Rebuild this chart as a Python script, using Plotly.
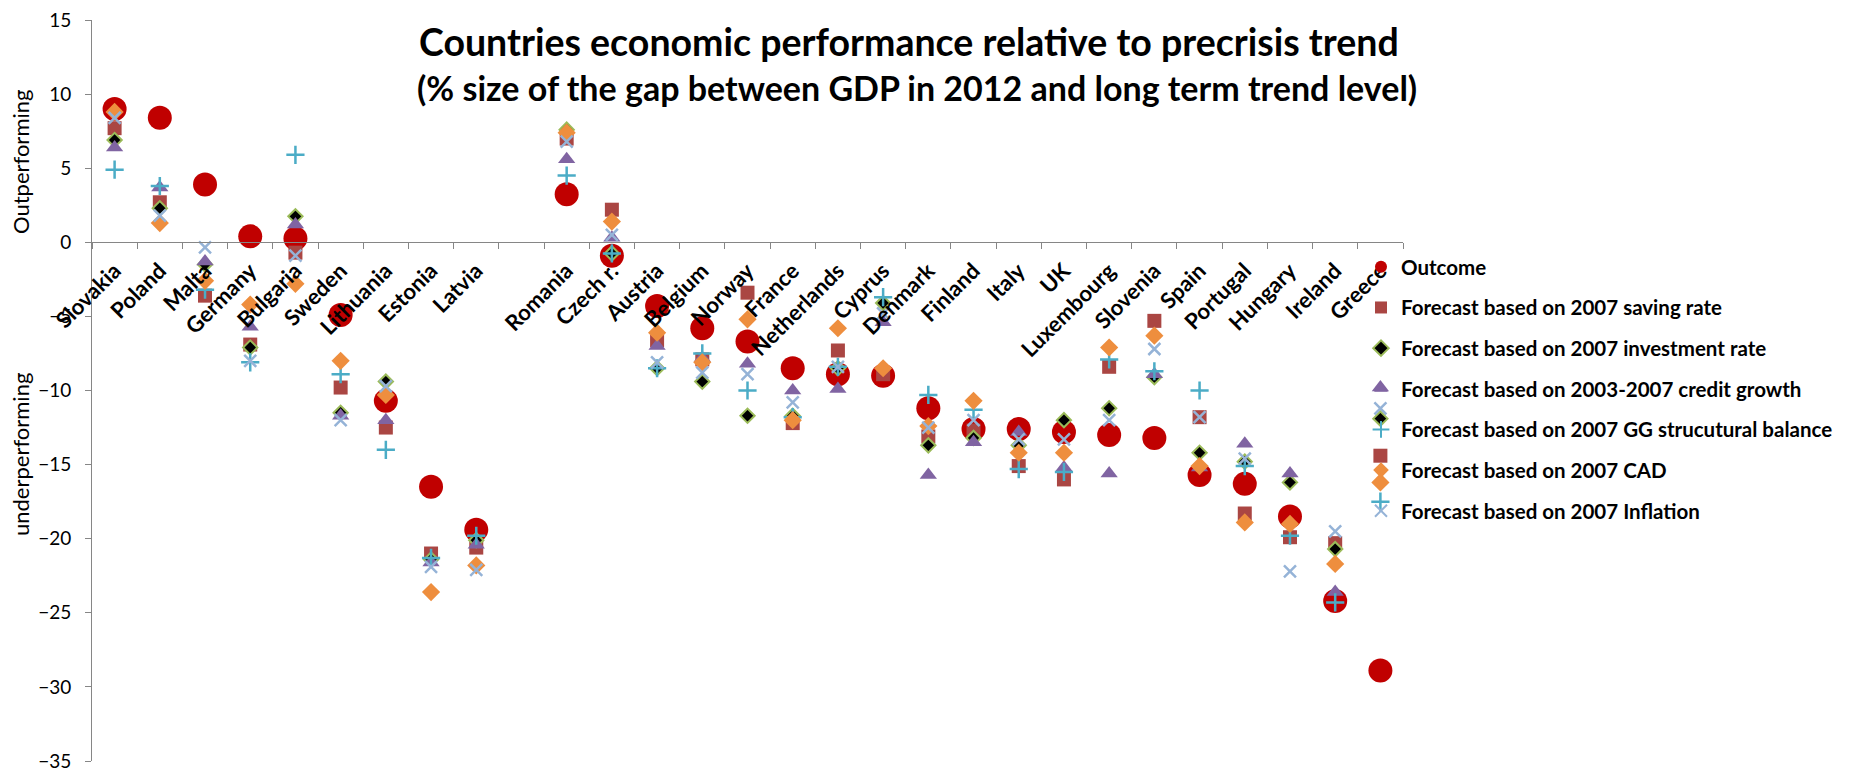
import plotly.graph_objects as go

# categories (the empty one is the gap between Latvia and Romania)
countries = ["Slovakia", "Poland", "Malta", "Germany", "Bulgaria", "Sweden", "Lithuania",
             "Estonia", "Latvia", "", "Romania", "Czech r.", "Austria", "Belgium", "Norway",
             "France", "Netherlands", "Cyprus", "Denmark", "Finland", "Italy", "UK",
             "Luxembourg", "Slovenia", "Spain", "Portugal", "Hungary", "Ireland", "Greece"]

outcome = [9.0, 8.4, 3.9, 0.4, 0.25, -4.9, -10.7, -16.5, -19.4, None, 3.25, -0.9, -4.3, -5.8,
           -6.7, -8.5, -8.9, -9.0, -11.2, -12.6, -12.6, -12.8, -13.0, -13.2, -15.7, -16.3,
           -18.5, -24.2, -28.9]
saving = [7.7, 2.7, -3.6, -6.9, -0.7, -9.8, -12.5, -21.0, -20.6, None, 7.0, 2.2, -6.6, -7.9,
          -3.4, -12.2, -7.3, -8.9, -13.1, -12.7, -15.1, -16.0, -8.4, -5.3, -11.8, -18.3,
          -19.9, -20.3, -14.4]
investment = [6.9, 2.3, -1.5, -7.1, 1.75, -11.5, -9.4, -21.4, -20.1, None, 7.6, -0.75, -8.5,
              -9.4, -11.7, -11.7, -8.5, -4.1, -13.7, -13.2, -13.7, -12.0, -11.2, -9.1, -14.2,
              -14.8, -16.2, -20.7, -11.9]
credit = [6.4, 3.7, -1.3, -5.7, 1.2, -11.7, -12.0, -21.6, -20.4, None, 5.6, 0.3, -7.0, -7.8,
          -8.2, -10.0, -9.9, -5.4, -15.7, -13.5, -12.8, -15.2, -15.6, -8.9, -15.2, -13.6,
          -15.6, -23.6, -9.8]
gg_balance = [4.9, 3.8, -3.2, -8.1, 5.9, -8.9, -14.0, -21.3, -19.8, None, 4.5, -0.75, -8.5,
              -7.5, -10.0, -11.8, -8.4, -3.7, -10.3, -11.3, -15.3, -15.5, -7.9, -8.7, -10.0,
              -15.1, -19.8, -24.3, -17.5]
cad = [8.8, 1.3, -2.6, -4.2, -2.8, -8.0, -10.3, -23.6, -21.8, None, 7.4, 1.4, -6.1, -8.1,
       -5.2, -12.0, -5.8, -8.5, -12.4, -10.7, -14.2, -14.2, -7.1, -6.3, -15.1, -18.9, -19.0,
       -21.7, -16.2]
inflation = [8.4, 1.8, -0.35, -8.0, -0.9, -12.0, -9.7, -21.9, -22.1, None, 6.8, 0.5, -8.1,
             -8.8, -8.9, -10.8, -8.4, -4.8, -12.5, -12.0, -13.3, -13.3, -12.0, -7.2, -11.8,
             -14.6, -22.2, -19.5, -11.2]

y_min, y_max = -35, 15

# page body has an 8px margin, so the figure is drawn 8px in from the corner;
# the figure is a bit wider than the window so the legend never pushes the margins
OFF = 8
W, H = 1880, 770
L, T = 92 - OFF, 20 - OFF
R = W - (1403 - OFF)
B = H - (761 - OFF)


def px(x, y):
    # window pixel position -> paper coordinates
    return ((x - OFF) - L) / (W - L - R), 1 - ((y - OFF) - T) / (H - T - B)


pos = list(range(len(countries)))

series = [
    ("Outcome", outcome, dict(symbol="circle", size=24, color="#C00000")),
    ("Forecast based on 2007 saving rate", saving,
     dict(symbol="square", size=14, color="#AA4643")),
    ("Forecast based on 2007 investment rate", investment,
     dict(symbol="diamond", size=11, color="black", line=dict(color="#9BBB59", width=2))),
    ("Forecast based on 2003-2007 credit growth", credit,
     dict(symbol="triangle-up", size=15, color="#8064A2")),
    ("Forecast based on 2007 GG strucutural balance", gg_balance,
     dict(symbol="cross-thin", size=13, color="#4BACC6", line=dict(color="#4BACC6", width=2.5))),
    ("Forecast based on 2007 CAD", cad,
     dict(symbol="diamond", size=14, color="#EE8E3E")),
    ("Forecast based on 2007 Inflation", inflation,
     dict(symbol="x-thin", size=12, color="#95B3D7", line=dict(color="#95B3D7", width=2.5))),
]

fig = go.Figure()
for i, (name, vals, mk) in enumerate(series):
    fig.add_trace(go.Scatter(x=pos, y=vals, mode="markers", name=name, marker=mk,
                             legendgroup=str(i)))

lx, ly = px(1361, 247)
fig.update_layout(
    width=W, height=H,
    margin=dict(l=L, r=R, t=T, b=B),
    paper_bgcolor="white", plot_bgcolor="white",
    font=dict(family="Lato", color="black"),
    showlegend=True,
    legend=dict(x=lx, y=ly, xanchor="left", yanchor="top", tracegroupgap=11,
                itemsizing="constant", bgcolor="rgba(0,0,0,0)",
                font=dict(family="Lato", size=20.5, color="black", weight="bold")),
    xaxis=dict(range=[-0.5, len(countries) - 0.5], tickmode="array", tickvals=pos,
               ticktext=countries, tickangle=-45, ticks="", showline=True,
               linecolor="#868686", showgrid=False, zeroline=False, automargin=False,
               anchor="free", position=(0 - y_min) / (y_max - y_min),
               ticklabelstandoff=6,
               tickfont=dict(family="Lato", size=22, color="black", weight="bold"),
               minor=dict(ticks="outside", tickmode="linear", tick0=-0.5, dtick=1,
                          ticklen=6, tickcolor="#868686", showgrid=False)),
    yaxis=dict(range=[y_min, y_max], dtick=5, ticks="outside", ticklen=6,
               tickcolor="#868686", showline=True, linecolor="#868686",
               showgrid=False, zeroline=False, automargin=False, ticklabelstandoff=10,
               ticklabeloverflow="allow",
               tickfont=dict(family="Lato", size=19, color="black")),
)

t1x, t1y = px(909, 41)
t2x, t2y = px(917, 88)
fig.add_annotation(x=t1x, y=t1y, xref="paper", yref="paper", showarrow=False,
                   xanchor="center", yanchor="middle",
                   text="Countries economic performance relative to precrisis trend",
                   font=dict(family="Lato", size=37.5, color="black", weight="bold"))
fig.add_annotation(x=t2x, y=t2y, xref="paper", yref="paper", showarrow=False,
                   xanchor="center", yanchor="middle",
                   text="(% size of the gap between GDP in 2012 and long term trend level)",
                   font=dict(family="Lato", size=34, color="black", weight="bold"))

ox, oy = px(20, 162)
ux, uy = px(20, 455)
fig.add_annotation(x=ox, y=oy, xref="paper", yref="paper", showarrow=False, textangle=-90,
                   xanchor="center", yanchor="middle",
                   text="Outperforming", font=dict(family="Lato", size=22, color="black"))
fig.add_annotation(x=ux, y=uy, xref="paper", yref="paper", showarrow=False, textangle=-90,
                   xanchor="center", yanchor="middle",
                   text="underperforming", font=dict(family="Lato", size=22, color="black"))

fig.write_html("out.html")
